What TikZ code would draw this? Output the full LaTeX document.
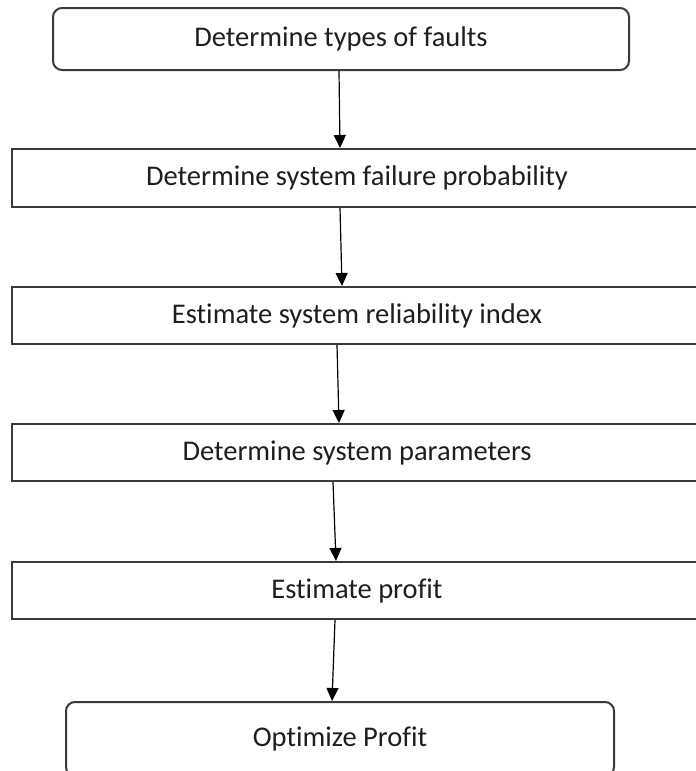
\documentclass[tikz,border=0pt]{standalone}
\usepackage{fontspec}
\setmainfont{Carlito}[Ligatures=NoCommon]
\usetikzlibrary{arrows.meta, positioning}
\definecolor{Edge}{HTML}{3A3A3A}
\definecolor{Ink}{HTML}{1E1E1E}

\begin{document}
\begin{tikzpicture}[x=1pt, y=-1pt,
  every node/.style={font=\fontsize{28.5}{32}\selectfont, text=Ink},
  stepbox/.style={draw=Edge, line width=2pt, minimum width=690pt, minimum height=57pt, inner sep=0pt},
  endbox/.style={draw=Edge, line width=2pt, rounded corners=9pt, inner sep=0pt},
  flow/.style={-{Triangle[width=12pt, length=13pt]}, line width=1.2pt, black}]
  % Frame
  \useasboundingbox (0,0) rectangle (696,771);
  \clip (0,0) rectangle (696,771);
  % Boxes
  \node[endbox, minimum width=576pt, minimum height=62pt] (faults) at (341,39) {Determine types of faults};
  \node[stepbox, minimum height=58pt] (failure) at (357,178) {Determine system failure probability};
  \node[stepbox] (reliab) at (357,315.5) {Estimate system reliability index};
  \node[stepbox] (params) at (357,452.5) {Determine system parameters};
  \node[stepbox] (profit) at (357,590.5) {Estimate profit};
  \node[endbox, minimum width=548pt, minimum height=74pt] (optim) at (340,739) {Optimize Profit};
  % Arrows
  \draw[flow] ([xshift=-2pt]faults.south) -- ([xshift=-17pt]failure.north);
  \draw[flow] ([xshift=-17pt]failure.south) -- ([xshift=-15pt]reliab.north);
  \draw[flow] ([xshift=-20pt]reliab.south) -- ([xshift=-18pt]params.north);
  \draw[flow] ([xshift=-24pt]params.south) -- ([xshift=-21pt]profit.north);
  \draw[flow] ([xshift=-22pt]profit.south) -- ([xshift=-8pt]optim.north);
\end{tikzpicture}
\end{document}
